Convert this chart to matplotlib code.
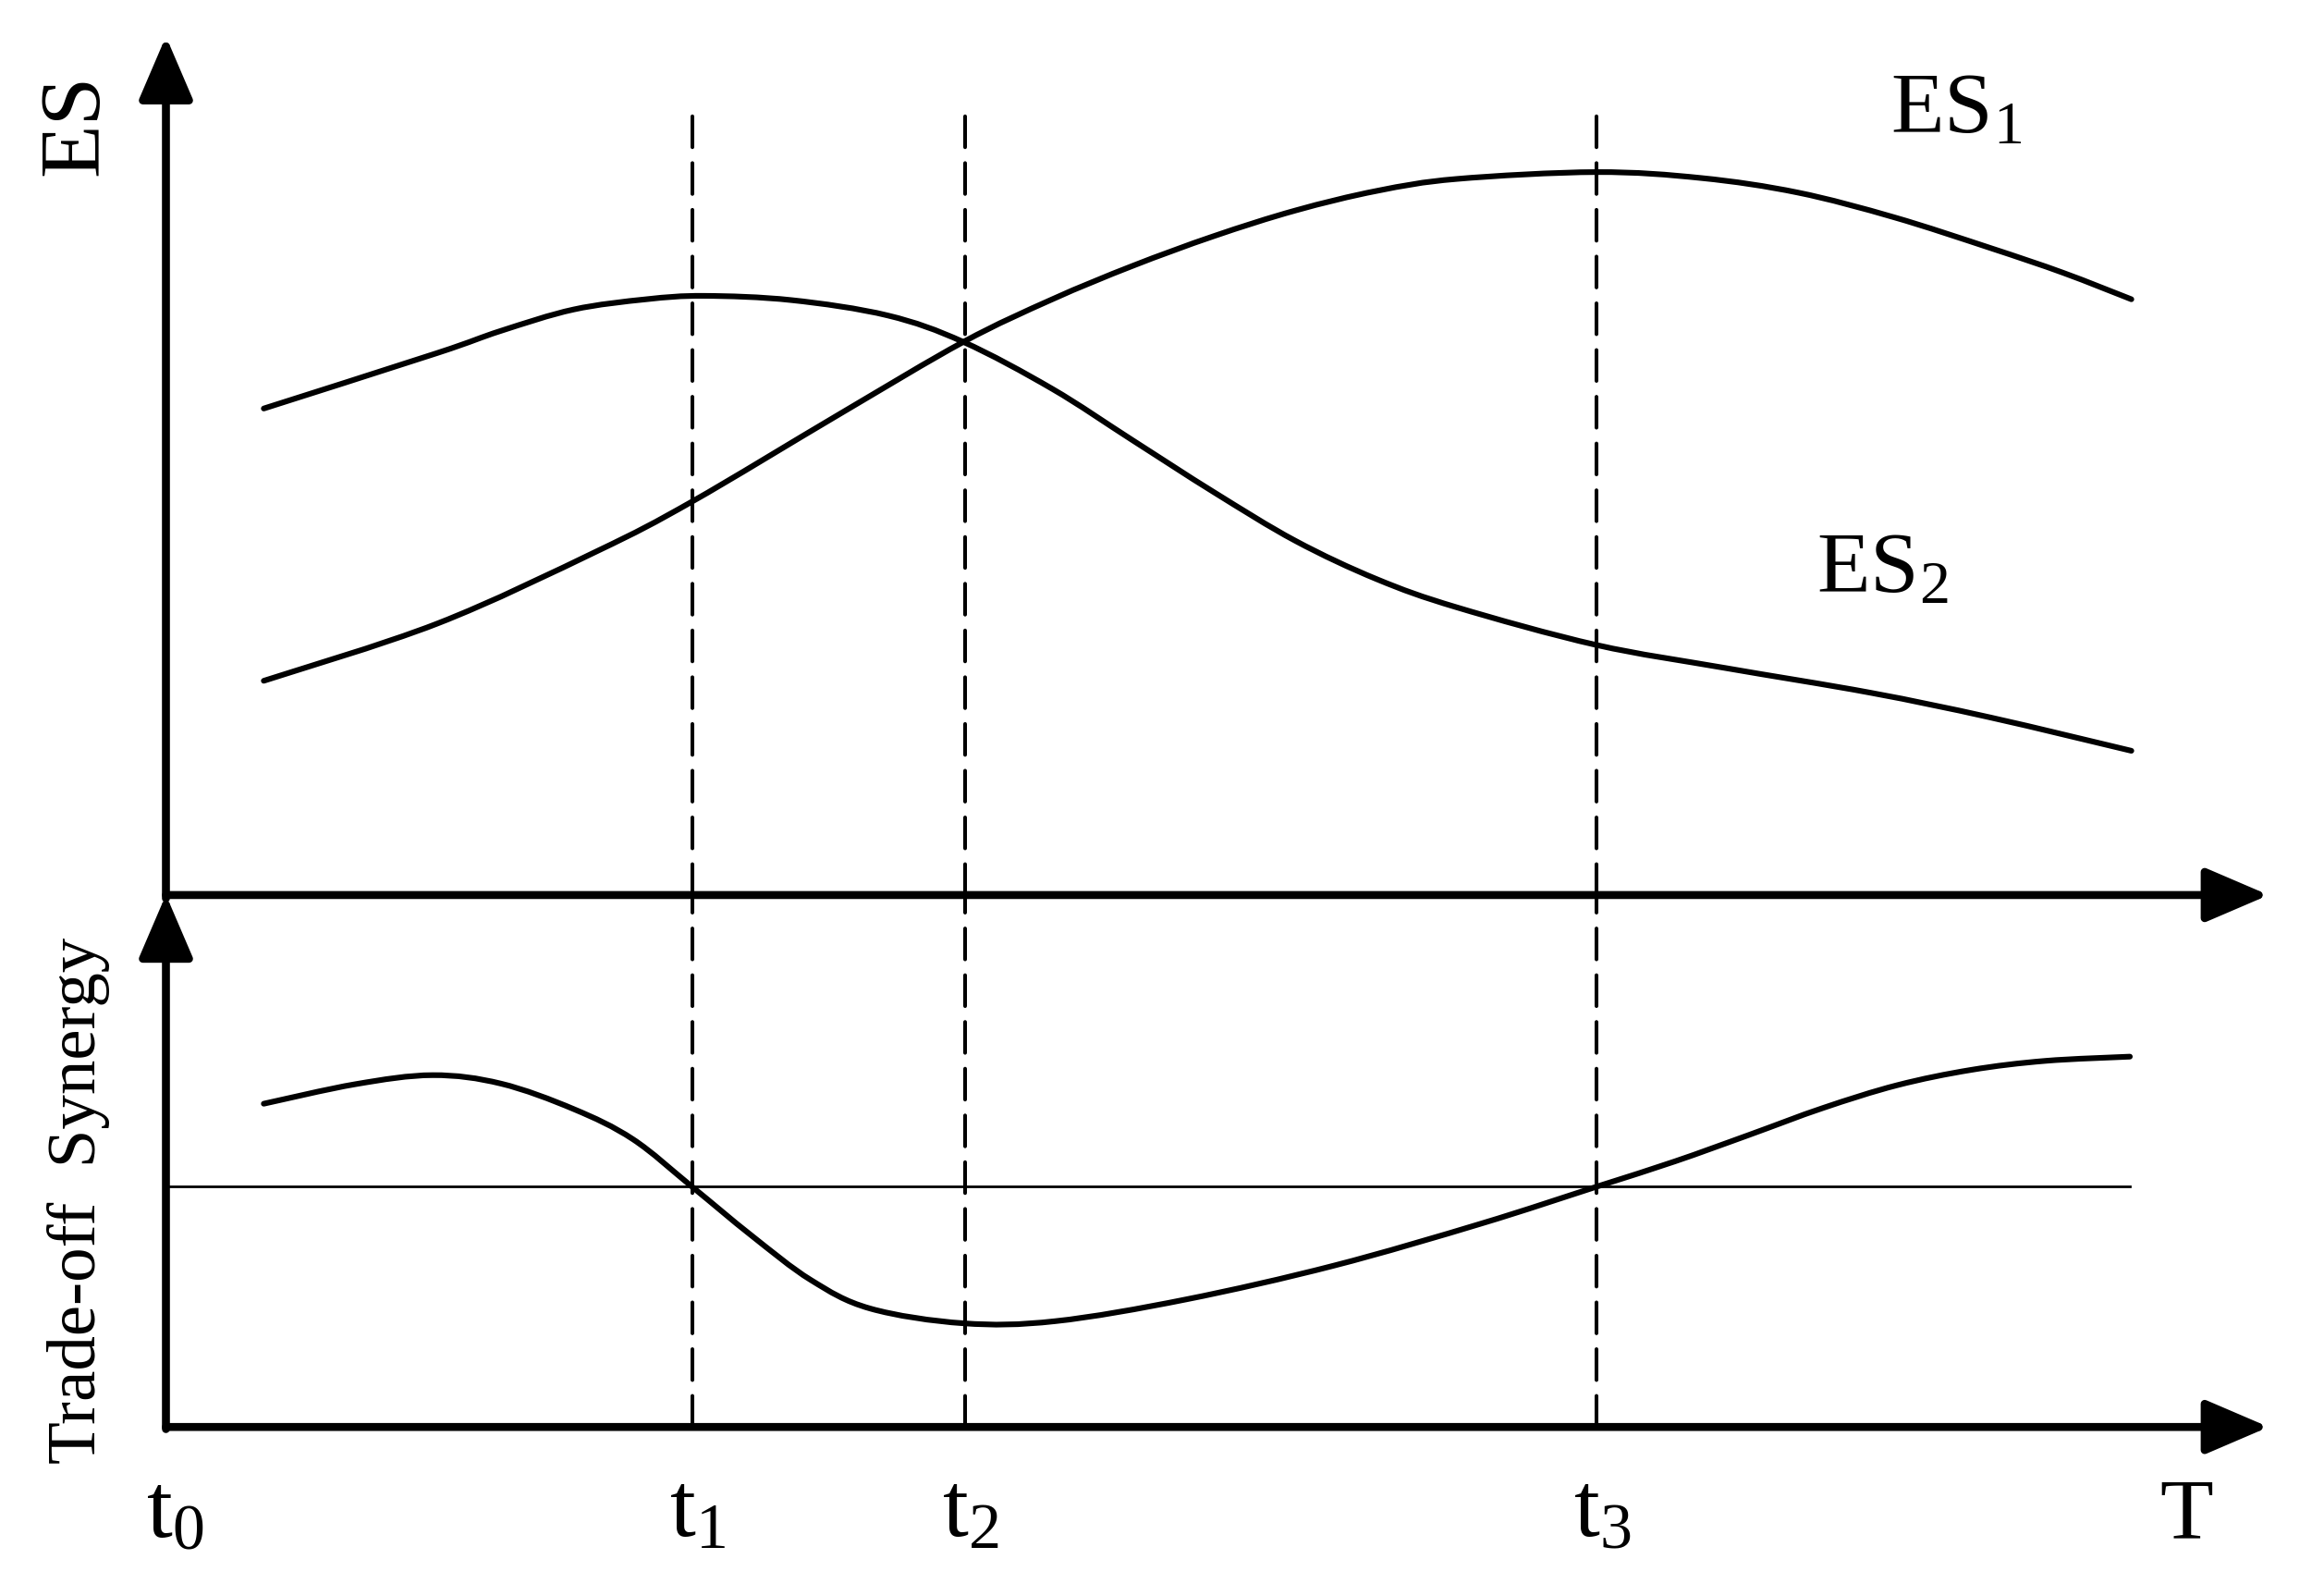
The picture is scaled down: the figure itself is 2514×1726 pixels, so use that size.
import numpy as np
import matplotlib
matplotlib.use('Agg')
import matplotlib.pyplot as plt
from matplotlib.path import Path
from matplotlib.patches import PathPatch

plt.rcParams['font.family'] = ['Liberation Serif', 'DejaVu Serif']
plt.rcParams['mathtext.fontset'] = 'custom'
plt.rcParams['mathtext.rm'] = 'Liberation Serif'
plt.rcParams['mathtext.it'] = 'Liberation Serif'

# time axis (arbitrary units), t0 = 0
t_marks = [35.5, 53.9, 96.5]
t_labels = ['t$_1$', 't$_2$', 't$_3$']

# ES1 curve (rising, peaks near t3)
es1_t = [6.6, 18.3, 29.1, 35.5, 45.4, 53.8, 59.8, 65.2, 70.7, 76.2, 81.7, 87.1,
         96.5, 103.6, 110.1, 116.6, 123.1, 128.0, 132.6]
es1_v = [25.1, 31.8, 40.3, 46.1, 56.3, 64.8, 69.8, 73.7, 77.2, 80.2, 82.5, 83.9,
         84.7, 84.0, 82.3, 79.4, 75.8, 72.9, 69.8]

# ES2 curve (peaks near t1, falls after t2)
es2_t = [6.6, 18.3, 22.6, 27.5, 32.4, 36.3, 42.2, 48.7, 53.8, 59.8, 65.2,
         70.7, 76.2, 81.7, 87.1, 96.5, 105.2, 115.0, 123.1, 132.6]
es2_v = [57.0, 63.5, 66.1, 68.6, 69.8, 70.2, 69.7, 67.9, 64.8, 59.3, 53.3,
         47.2, 41.5, 37.0, 33.7, 29.3, 26.6, 23.7, 20.8, 16.9]

# trade-off / synergy curve
rel_t = [6.6, 12.8, 18.0, 22.6, 27.5, 31.5, 35.5, 39.5, 43.5, 47.5, 53.8, 60.0,
         68.8, 78.8, 88.8, 96.5, 101.8, 106.8, 111.8, 116.8, 121.8, 126.8, 132.5]
rel_v = [61.1, 64.8, 66.5, 64.9, 60.1, 54.4, 45.4, 36.2, 27.8, 22.4, 19.6, 20.0,
         24.1, 30.5, 38.5, 45.4, 50.2, 55.2, 60.3, 64.6, 67.5, 69.2, 70.0]
threshold = 45.4

t_end = 132.5
x_max = 141.3


def smooth_curve(ax, xs, ys, lw):
    # bezier path through the read points (catmull-rom tangents)
    p = np.column_stack([xs, ys]).astype(float)
    verts = [p[0]]
    codes = [Path.MOVETO]
    for i in range(len(p) - 1):
        p0 = p[i - 1] if i > 0 else p[i]
        p3 = p[i + 2] if i + 2 < len(p) else p[i + 1]
        c1 = p[i] + (p[i + 1] - p0) / 6.0
        c2 = p[i + 1] - (p3 - p[i]) / 6.0
        verts += [c1, c2, p[i + 1]]
        codes += [Path.CURVE4] * 3
    patch = PathPatch(Path(verts, codes), fill=False, lw=lw, edgecolor='k',
                      capstyle='round', joinstyle='round')
    ax.add_patch(patch)


fig = plt.figure(figsize=(12.57, 8.63), dpi=200)
ax1 = fig.add_axes([0.0714, 0.4392, 0.9012, 0.5348])
ax2 = fig.add_axes([0.0714, 0.1059, 0.9012, 0.3315])

curve_lw = 2.2
axis_lw = 3.1
dash_lw = 1.45

for ax in (ax1, ax2):
    ax.set_xlim(0, x_max)
    ax.set_ylim(0, 100)
    for s in ax.spines.values():
        s.set_visible(False)
    ax.set_xticks([])
    ax.set_yticks([])
    ax.patch.set_alpha(0)
    # axes with arrow heads
    ax.annotate('', xy=(1.004, 0), xytext=(0, 0), xycoords='axes fraction',
                arrowprops=dict(arrowstyle='-|>,head_length=1.05,head_width=0.45',
                                lw=axis_lw, color='k', mutation_scale=20,
                                shrinkA=0, shrinkB=0))
    ax.annotate('', xy=(0, 1.006), xytext=(0, -0.004), xycoords='axes fraction',
                arrowprops=dict(arrowstyle='-|>,head_length=1.05,head_width=0.45',
                                lw=axis_lw, color='k', mutation_scale=20,
                                shrinkA=0, shrinkB=0))

dash = (0, (8.3, 4.25))
for tm in t_marks:
    ax1.plot([tm, tm], [0, 92.4], color='k', lw=dash_lw, linestyle=dash, dash_capstyle='round')
    ax2.plot([tm, tm], [0, 100], color='k', lw=dash_lw, linestyle=dash, dash_capstyle='round')

smooth_curve(ax1, es1_t, es1_v, curve_lw)
smooth_curve(ax1, es2_t, es2_v, curve_lw)

ax2.plot([0, t_end], [threshold, threshold], color='k', lw=1.0)
smooth_curve(ax2, rel_t, rel_v, curve_lw)

# labels
ax1.text(120.8, 91.8, 'ES$_1$', fontsize=34, ha='center', va='center')
ax1.text(115.8, 38.0, 'ES$_2$', fontsize=34, ha='center', va='center')
fig.text(0.033, 0.922, 'ES', fontsize=34, rotation=90, ha='center', va='center')
fig.text(0.034, 0.248, 'Trade-off  Synergy', fontsize=27, rotation=90, ha='center', va='center')

ax2.text(0.6, -0.165, 't$_0$', fontsize=36, ha='center', va='center',
         transform=ax2.get_xaxis_transform())
for tm, lab in zip(t_marks, t_labels):
    ax2.text(tm + 0.4, -0.165, lab, fontsize=36, ha='center', va='center',
             transform=ax2.get_xaxis_transform())
ax2.text(136.3, -0.17, 'T', fontsize=34, ha='center', va='center',
         transform=ax2.get_xaxis_transform())

fig.savefig('out.png', dpi=200, facecolor='white')
